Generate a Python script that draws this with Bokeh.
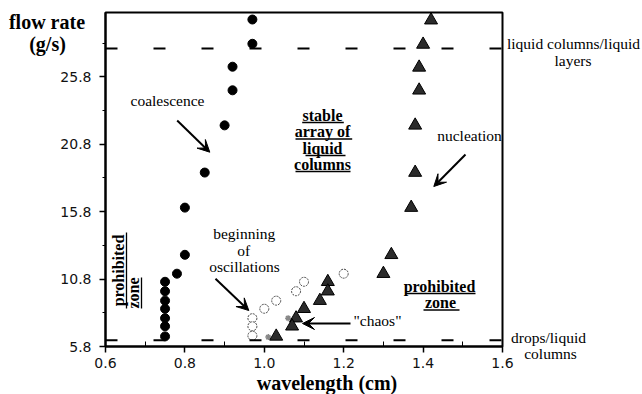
from bokeh.plotting import figure
from bokeh.models import Range1d, FixedTicker, Span, Arrow, VeeHead
from bokeh.core.properties import value
from bokeh.embed import file_html
from bokeh.resources import INLINE

# ---------------- data ----------------
x_ticks = [0.6, 0.8, 1.0, 1.2, 1.4, 1.6]
x_tick_labels = ["0.6", "0.8", "1.0", "1.2", "1.4", "1.6"]
x_minor = [0.7, 0.9, 1.1, 1.3, 1.5]
y_ticks = [5.8, 10.8, 15.8, 20.8, 25.8]
y_tick_labels = ["5.8", "10.8", "15.8", "20.8", "25.8"]
y_minor = [8.3, 13.3, 18.3, 23.3, 28.3]

# coalescence boundary (filled circles)
coal_x = [0.97, 0.97, 0.92, 0.92, 0.90, 0.85, 0.80, 0.80, 0.78,
          0.75, 0.75, 0.75, 0.75, 0.75, 0.75, 0.75]
coal_y = [30.05, 28.25, 26.55, 24.8, 22.2, 18.7, 16.1, 12.6, 11.2,
          10.6, 9.9, 9.2, 8.6, 7.9, 7.3, 6.55]

# nucleation boundary (filled triangles)
nuc_x = [1.42, 1.40, 1.39, 1.39, 1.38, 1.38, 1.37, 1.32, 1.30,
         1.16, 1.16, 1.14, 1.10, 1.08, 1.07, 1.03]
nuc_y = [30.0, 28.2, 26.5, 24.8, 22.2, 18.7, 16.1, 12.6, 11.2,
         10.6, 9.9, 9.2, 8.6, 7.9, 7.3, 6.55]

# beginning of oscillations (open circles)
osc_x = [0.97, 0.97, 0.97, 1.00, 1.03, 1.08, 1.10, 1.20]
osc_y = [7.9, 7.3, 6.6, 8.6, 9.2, 9.9, 10.6, 11.2]

# "chaos" (grey stipple points)
chaos_x = [1.01, 1.06]
chaos_y = [6.5, 7.9]

# regime boundaries
upper_boundary = 27.9
lower_boundary = 6.27

# ---------------- geometry ----------------
X0, X1 = 0.6, 1.6
Y0, Y1 = 5.8, 30.57
FIG_W, FIG_H = 642, 394
BL, BT, FW, FH = 105, 12, 397, 334
BR = FIG_W - BL - FW
BB = FIG_H - BT - FH
FL, FT = BL, BT
FB = FT + FH


def X(px):
    return X0 + (px - FL) / FW * (X1 - X0)


def Y(py):
    return Y0 + (FB - py) / FH * (Y1 - Y0)


SERIF = "Liberation Serif"
SANS = "DejaVu Sans"

p = figure(width=FIG_W, height=FIG_H, frame_width=FW, frame_height=FH,
           min_border_left=BL, min_border_right=BR, min_border_top=BT,
           min_border_bottom=BB, x_range=Range1d(X0, X1), y_range=Range1d(Y0, Y1),
           output_backend="svg", toolbar_location=None)
p.xgrid.grid_line_color = None
p.ygrid.grid_line_color = None
p.outline_line_color = "black"
p.outline_line_width = 2
p.background_fill_color = "white"
p.border_fill_color = "white"

p.xaxis.ticker = FixedTicker(ticks=x_ticks, minor_ticks=x_minor)
p.yaxis.ticker = FixedTicker(ticks=y_ticks, minor_ticks=y_minor)
p.xaxis.major_label_overrides = dict(zip(x_ticks, x_tick_labels))
p.yaxis.major_label_overrides = dict(zip(y_ticks, y_tick_labels))
for ax in (p.xaxis, p.yaxis):
    ax.axis_line_width = 2
    ax.axis_line_color = "black"
    ax.major_tick_line_color = "black"
    ax.major_tick_line_width = 1.5
    ax.minor_tick_line_color = "black"
    ax.major_tick_out = 6
    ax.major_tick_in = 0
    ax.major_label_text_font = SANS
    ax.major_label_text_font_size = "14px"
    ax.major_label_text_color = "#111111"
p.xaxis.minor_tick_in = 5
p.xaxis.minor_tick_out = 0
p.yaxis.minor_tick_in = 0
p.yaxis.minor_tick_out = 3
p.xaxis.major_label_standoff = 5
p.yaxis.major_label_standoff = 8

# dashed regime boundaries
for yb in (upper_boundary, lower_boundary):
    p.add_layout(Span(location=yb, dimension="width", line_color="black",
                      line_width=2, line_dash="12 36"))

# data
p.scatter(osc_x, osc_y, marker="circle", size=9, fill_color="white",
          line_color="#444444", line_dash="2 1", line_width=1)
p.scatter(chaos_x, chaos_y, marker="asterisk", size=6, line_color="#888888",
          line_width=1.5)
p.scatter(coal_x, coal_y, marker="circle", size=9, fill_color="black",
          line_color="black")
p.scatter(nuc_x, nuc_y, marker="triangle", size=13, fill_color="#2b2b2b",
          line_color="black")


def label(px, py, text, size="15.5px", bold=False, font=SERIF, angle=0.0):
    p.text(x=[X(px)], y=[Y(py)], text=[text], text_font=value(font),
           text_font_size=value(size),
           text_font_style="bold" if bold else "normal",
           text_align="center", text_baseline="middle", angle=angle,
           text_color="black", level="overlay")


def uline(px0, py0, px1, py1, width=1.3):
    p.segment(x0=[X(px0)], y0=[Y(py0)], x1=[X(px1)], y1=[Y(py1)],
              line_color="black", line_width=width, level="overlay")


def arrow(px0, py0, px1, py1):
    p.add_layout(Arrow(x_start=X(px0), y_start=Y(py0), x_end=X(px1), y_end=Y(py1),
                       start=None,
                       end=VeeHead(size=12, fill_color="black", line_color="black"),
                       line_color="black", line_width=2))


# axis titles
label(46.5, 21, "flow rate", size="20px", bold=True)
label(47, 43, "(g/s)", size="20px", bold=True)
label(326.5, 382, "wavelength (cm)", size="20px", bold=True)

# annotations
label(167, 100, "coalescence")
arrow(176.7, 120, 209.3, 151.7)

for txt, uy, x0, x1 in [("stable", 122, 301.7, 343.3),
                        ("array of", 138.5, 295, 351.7),
                        ("liquid", 155, 305, 345),
                        ("columns", 171, 295, 350)]:
    label(322, uy - 7.5, txt, size="16px", bold=True)
    uline(x0, uy, x1, uy)

label(243.7, 233.3, "beginning")
label(243.3, 250, "of")
label(244, 265.7, "oscillations")
arrow(215, 278.3, 248.3, 310)

label(377, 320, '"chaos"')
arrow(350, 323, 302, 323)

label(469, 135, "nucleation")
arrow(465, 154, 433.3, 186)

label(439, 285.5, "prohibited", size="16px", bold=True)
uline(405, 293, 475, 293)
label(440, 302, "zone", size="16px", bold=True)
uline(423, 309.5, 459, 309.5)

label(118, 270, "prohibited", size="16px", bold=True, angle=1.5708)
uline(126, 232, 126, 308)
label(133, 292.5, "zone", size="16px", bold=True, angle=1.5708)
uline(141, 277, 141, 308)

label(573, 43.3, "liquid columns/liquid", size="15.5px")
label(572.5, 60, "layers", size="15.5px")
label(548, 336.7, "drops/liquid", size="15.5px")
label(550, 352.7, "columns", size="15.5px")

open("out.html", "w").write(file_html(p, INLINE))
